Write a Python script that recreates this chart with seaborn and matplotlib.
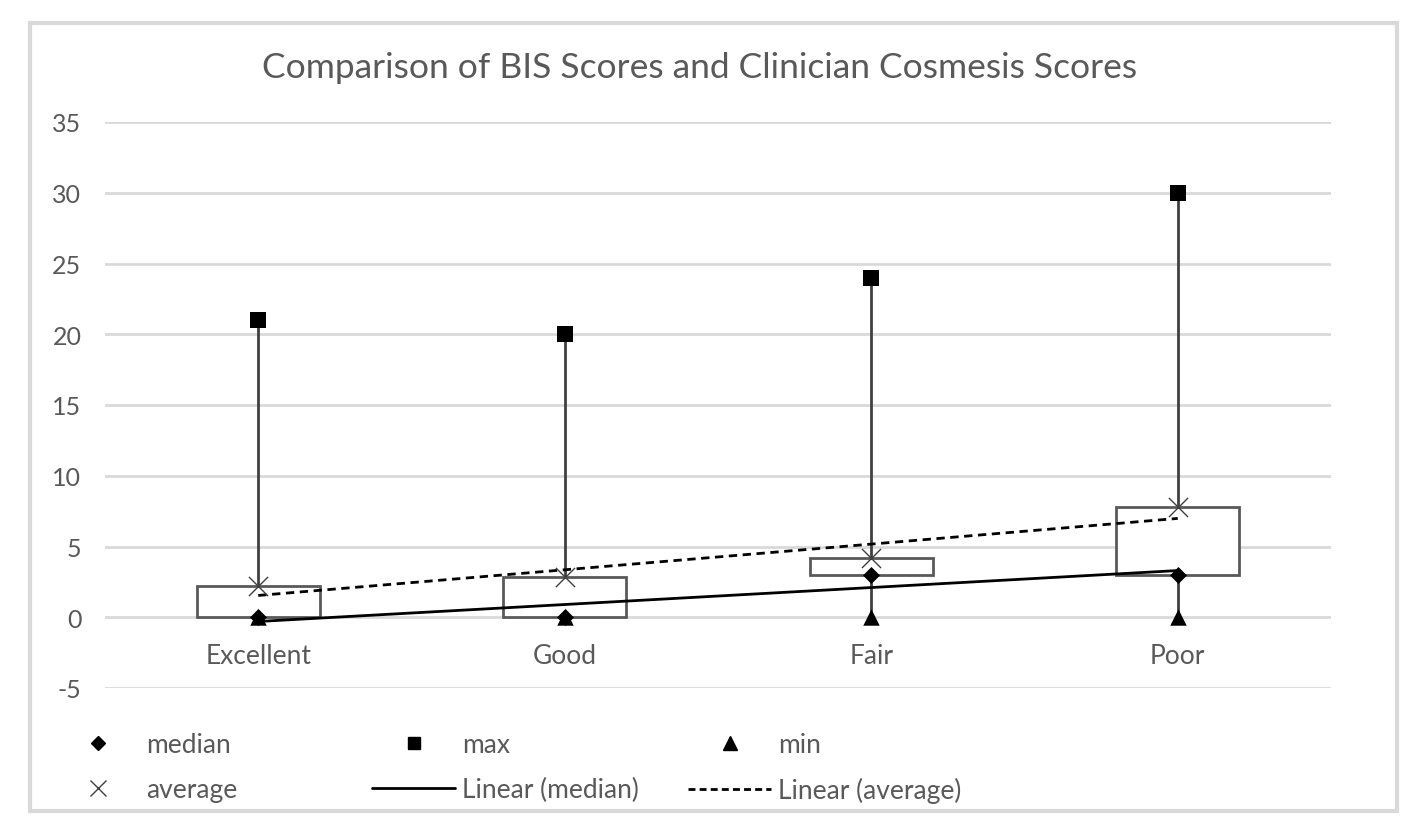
import numpy as np
import pandas as pd
import matplotlib
matplotlib.use("Agg")
import matplotlib.pyplot as plt
import matplotlib.transforms as mtransforms
from matplotlib.lines import Line2D
from matplotlib.patches import Rectangle
import seaborn as sns

# ---- data ----
categories = ["Excellent", "Good", "Fair", "Poor"]
median_vals = [0, 0, 3, 3]
max_vals = [21, 20, 24, 30]
min_vals = [0, 0, 0, 0]
avg_vals = [2.2, 2.85, 4.2, 7.8]
y_ticks = [-5, 0, 5, 10, 15, 20, 25, 30, 35]

df = pd.DataFrame({
    "cat": categories,
    "pos": np.arange(len(categories)),
    "median": median_vals,
    "max": max_vals,
    "min": min_vals,
    "average": avg_vals,
})

sns.set_theme(style="white")
plt.rcParams["font.family"] = ["Lato", "DejaVu Sans"]
plt.rcParams["axes.unicode_minus"] = False

GRID = "#d9d9d9"
TXT = "#595959"

fig = plt.figure(figsize=(14.17, 8.37), dpi=100)
ax = fig.add_axes([105 / 1417, 1 - 689 / 837, (1331 - 105) / 1417, (689 - 123) / 837])

# outer chart border
fig.patches.append(Rectangle((30 / 1417, 1 - 812 / 837), (1397 - 30) / 1417, (812 - 24) / 837,
                             transform=fig.transFigure, fill=False, edgecolor=GRID, lw=3, zorder=0))

# high-low lines, then white boxes (median -> average) on top
ax.vlines(df["pos"], df["min"], df["max"], color="#404040", lw=2, zorder=2)
ax.bar(df["pos"], df["average"] - df["median"], bottom=df["median"], width=0.4,
       facecolor="white", edgecolor=TXT, lw=2, zorder=3)

# linear trend lines
sns.regplot(data=df, x="pos", y="median", scatter=False, ci=None, ax=ax,
            line_kws=dict(color="black", lw=2, zorder=4))
sns.regplot(data=df, x="pos", y="average", scatter=False, ci=None, ax=ax,
            line_kws=dict(color="black", lw=2, ls=(0, (3, 2)), zorder=4))

# markers
sns.scatterplot(data=df, x="pos", y="max", marker="s", s=120, color="black", linewidth=0, ax=ax, zorder=5)
sns.scatterplot(data=df, x="pos", y="min", marker="^", s=140, color="black", linewidth=0, ax=ax, zorder=5)
sns.scatterplot(data=df, x="pos", y="median", marker="D", s=75, color="black", linewidth=0, ax=ax, zorder=5)
sns.scatterplot(data=df, x="pos", y="average", marker="x", s=190, color="#404040", linewidth=1, ax=ax, zorder=5)

ax.set_xlim(-0.5, len(categories) - 0.5)
ax.set_ylim(y_ticks[0], y_ticks[-1])
ax.set_yticks(y_ticks)
ax.set_xticks([])
ax.set_xlabel("")
ax.set_ylabel("")
ax.yaxis.grid(True, color=GRID, lw=2)
ax.set_axisbelow(True)
for sp in ax.spines.values():
    sp.set_visible(False)
ax.tick_params(axis="y", length=0, pad=17, labelsize=18, labelcolor=TXT)

# category labels sit just below the zero line
lab_tr = mtransforms.offset_copy(ax.transData, fig=fig, y=-38, units="dots")
for p, c in zip(df["pos"], categories):
    ax.text(p, 0, c, transform=lab_tr, ha="center", va="center", fontsize=19, color=TXT)

fig.text(700 / 1417, 1 - 68 / 837, "Comparison of BIS Scores and Clinician Cosmesis Scores",
         ha="center", va="center", fontsize=25.5, color=TXT)

# legend: three columns placed like the original
h_med = Line2D([], [], ls="none", marker="D", ms=7, color="black")
h_avg = Line2D([], [], ls="none", marker="x", ms=12, mew=1, color="#404040")
h_max = Line2D([], [], ls="none", marker="s", ms=9, color="black")
h_lmed = Line2D([], [], color="black", lw=2)
h_min = Line2D([], [], ls="none", marker="^", ms=10, color="black")
h_lavg = Line2D([], [], color="black", lw=2, ls=(0, (2.5, 1.5)))

cols = [
    ([h_med, h_avg], ["median", "average"], 56),
    ([h_max, h_lmed], ["max", "Linear (median)"], 372),
    ([h_min, h_lavg], ["min", "Linear (average)"], 688),
]
for hs, ls_, xpx in cols:
    leg = fig.legend(hs, ls_, loc="upper left", bbox_to_anchor=(xpx / 1417, 1 - 733 / 837),
                     frameon=False, fontsize=19, handlelength=3.15, handletextpad=0.25,
                     labelspacing=0.75, borderpad=0, borderaxespad=0)
    for t in leg.get_texts():
        t.set_color(TXT)

fig.savefig("out.png", dpi=100)
